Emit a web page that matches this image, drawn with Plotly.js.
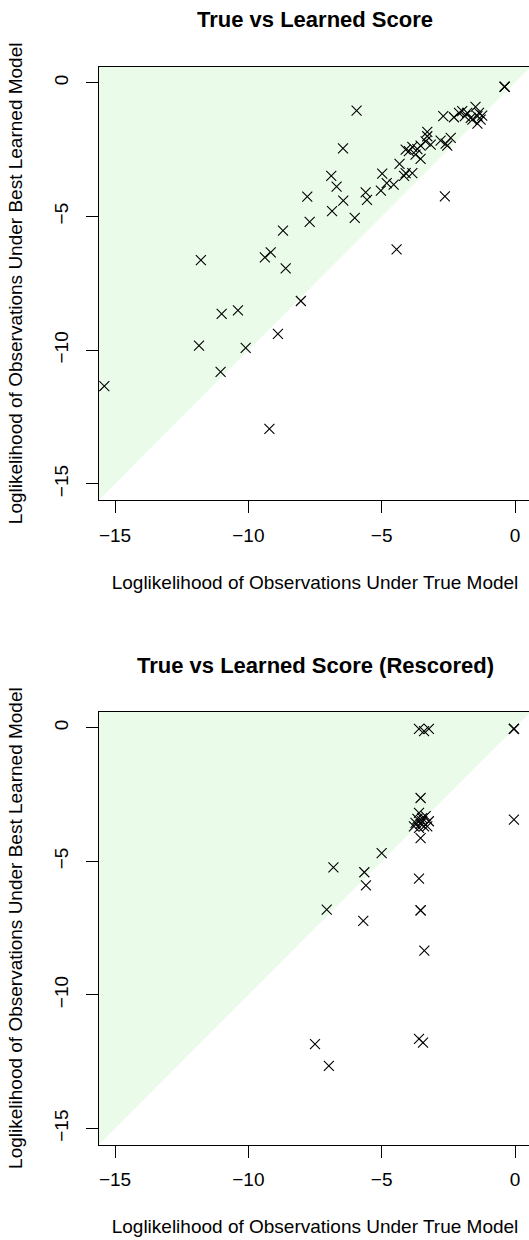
<!DOCTYPE html>
<html>
<head>
<meta charset="utf-8">
<script src="https://cdn.plot.ly/plotly-3.0.1.min.js"></script>
<style>
html,body{margin:0;padding:0;overflow:hidden;background:#fff;}
#chart{width:532px;height:1240px;}
</style>
</head>
<body>
<div id="chart"></div>
<script>
// Top panel: True vs Learned Score
const trueScore1 = [-0.39,-0.39,-2.69,-2.29,-2.10,-1.98,-1.88,-1.79,-1.66,-1.48,-1.41,-1.35,-1.29,-1.41,-1.23,-1.60,
  -3.29,-3.29,-3.35,-2.79,-2.60,-2.41,-2.54,-4.10,-3.98,-3.85,-3.66,-3.54,-3.16,-3.73,-3.54,-4.33,-4.10,-3.85,-4.16,-4.98,
  -5.94,-6.45,-6.89,-6.69,-7.79,-6.44,-6.86,-7.70,-6.01,-8.70,-11.78,-9.16,-9.38,-8.60,-8.03,-11.00,-10.39,-8.89,-11.85,
  -10.10,-11.04,-15.40,-9.21,-4.44,-2.63,-5.60,-5.55,-5.03,-4.81,-4.55];
const learnedScore1 = [-0.15,-0.15,-1.25,-1.29,-1.13,-1.06,-1.25,-1.13,-1.31,-0.90,-1.25,-1.13,-1.38,-1.53,-1.23,-1.38,
  -1.84,-2.00,-2.19,-2.16,-2.28,-2.06,-2.35,-2.50,-2.56,-2.40,-2.48,-2.35,-2.31,-2.69,-2.85,-3.03,-3.38,-3.38,-3.48,-3.40,
  -1.04,-2.45,-3.48,-3.88,-4.26,-4.41,-4.80,-5.20,-5.05,-5.53,-6.63,-6.34,-6.53,-6.94,-8.16,-8.64,-8.51,-9.39,-9.83,
  -9.91,-10.81,-11.34,-12.94,-6.23,-4.25,-4.10,-4.38,-4.03,-3.75,-3.81];

// Bottom panel: True vs Learned Score (Rescored)
const trueScore2 = [-3.60,-3.41,-3.23,-0.04,-0.04,-0.04,-3.54,-0.04,
  -3.60,-3.48,-3.73,-3.66,-3.35,-3.23,-3.41,-3.60,-3.29,-3.79,-3.48,-3.54,
  -3.54,-5.00,-6.81,-5.65,-5.59,-3.60,-7.06,-3.54,-3.54,-5.69,-3.40,-7.50,-6.98,-3.60,-3.45];
const learnedScore2 = [-0.04,-0.13,-0.04,-0.04,-0.04,-0.04,-2.63,-3.44,
  -3.19,-3.50,-3.56,-3.41,-3.31,-3.50,-3.69,-3.75,-3.69,-3.69,-3.38,-3.60,
  -4.13,-4.69,-5.23,-5.41,-5.90,-5.65,-6.81,-6.84,-6.84,-7.23,-8.34,-11.84,-12.66,-11.65,-11.79];

const tickValues = [-15, -10, -5, 0];
const axisRange = [-15.6, 0.6];
const titleTop = "True vs Learned Score";
const titleBottom = "True vs Learned Score (Rescored)";
const xTitle = "Loglikelihood of Observations Under True Model";
const yTitle = "Loglikelihood of Observations Under Best Learned Model";

const FONT = "Liberation Sans, Arial, Helvetica, sans-serif";
const H = 1240;
const topDomain = [(H - 500) / H, (H - 66.7) / H];
const botDomain = [(H - 1144.5) / H, (H - 711.7) / H];

const markerStyle = {symbol: 'x-thin-open', size: 10, color: '#000', line: {width: 1.1, color: '#000'}};

const traces = [
  {x: trueScore1, y: learnedScore1, type: 'scatter', mode: 'markers', marker: markerStyle, xaxis: 'x', yaxis: 'y', hoverinfo: 'x+y'},
  {x: trueScore2, y: learnedScore2, type: 'scatter', mode: 'markers', marker: markerStyle, xaxis: 'x2', yaxis: 'y2', hoverinfo: 'x+y'}
];

function xAxis(anchor) {
  return {
    domain: [0, 1], anchor: anchor, range: axisRange, tickvals: tickValues,
    ticks: 'outside', ticklen: 12, tickwidth: 1, tickcolor: '#000',
    showline: true, mirror: true, linecolor: '#000', linewidth: 1,
    showgrid: false, zeroline: false, ticklabelstandoff: 6,
    tickfont: {family: FONT, size: 19, color: '#000'},
    title: {text: xTitle, font: {family: FONT, size: 19, color: '#000'}, standoff: 30}
  };
}
function yAxis(anchor, domain) {
  return {
    domain: domain, anchor: anchor, range: axisRange, tickvals: tickValues,
    ticks: 'outside', ticklen: 12, tickwidth: 1, tickcolor: '#000', tickangle: -90,
    showline: true, mirror: true, linecolor: '#000', linewidth: 1,
    showgrid: false, zeroline: false, ticklabelstandoff: 10,
    tickfont: {family: FONT, size: 19, color: '#000'},
    title: {text: yTitle, font: {family: FONT, size: 19, color: '#000'}, standoff: 23}
  };
}

function triangle(xr, yr) {
  return {
    type: 'path', xref: xr, yref: yr, layer: 'below',
    path: 'M ' + axisRange[0] + ',' + axisRange[0] + ' L ' + axisRange[0] + ',' + axisRange[1] + ' L ' + axisRange[1] + ',' + axisRange[1] + ' Z',
    fillcolor: '#EAFBEA', line: {width: 0}
  };
}

const layout = {
  width: 532, height: H,
  margin: {l: 99, r: 1, t: 0, b: 0},
  paper_bgcolor: '#fff', plot_bgcolor: '#fff',
  showlegend: false,
  font: {family: FONT, color: '#000'},
  title: {text: titleTop, x: 0.5, xref: 'paper', y: 1 - 19.5 / H, yref: 'container', yanchor: 'middle', xanchor: 'center',
          font: {family: FONT, size: 22, weight: 'bold', color: '#000'}},
  xaxis: xAxis('y'),
  yaxis: yAxis('x', topDomain),
  xaxis2: xAxis('y2'),
  yaxis2: yAxis('x2', botDomain),
  shapes: [triangle('x', 'y'), triangle('x2', 'y2')],
  annotations: [{
    text: titleBottom, xref: 'paper', yref: 'paper', x: 0.5, y: 1 - 665 / H,
    xanchor: 'center', yanchor: 'middle', showarrow: false,
    font: {family: FONT, size: 22, weight: 'bold', color: '#000'}
  }]
};

Plotly.newPlot('chart', traces, layout, {displayModeBar: false, staticPlot: true});
</script>
</body>
</html>
